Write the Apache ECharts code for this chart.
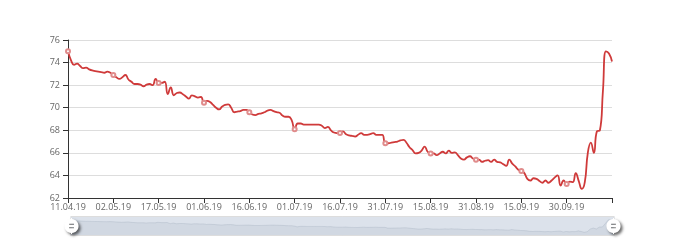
<!DOCTYPE html>
<html>
<head>
<meta charset="utf-8">
<script src="https://cdn.jsdelivr.net/npm/echarts@6/dist/echarts.min.js"></script>
<style>html,body{margin:0;padding:0;background:#fff}#c{width:680px;height:240px}</style>
</head>
<body>
<div id="c"></div>
<script>
var dates = [
'11.04.19','12.04.19','15.04.19','16.04.19','17.04.19','18.04.19','19.04.19','22.04.19','23.04.19','24.04.19','25.04.19','26.04.19','29.04.19','30.04.19','01.05.19',
'02.05.19','03.05.19','04.05.19','05.05.19','06.05.19','07.05.19','08.05.19','09.05.19','10.05.19','11.05.19','12.05.19','13.05.19','14.05.19','15.05.19','16.05.19',
'17.05.19','18.05.19','19.05.19','20.05.19','21.05.19','22.05.19','23.05.19','24.05.19','25.05.19','26.05.19','27.05.19','28.05.19','29.05.19','30.05.19','31.05.19',
'01.06.19','02.06.19','03.06.19','04.06.19','05.06.19','06.06.19','07.06.19','08.06.19','09.06.19','10.06.19','11.06.19','12.06.19','13.06.19','14.06.19','15.06.19',
'16.06.19','17.06.19','18.06.19','19.06.19','20.06.19','21.06.19','22.06.19','23.06.19','24.06.19','25.06.19','26.06.19','27.06.19','28.06.19','29.06.19','30.06.19',
'01.07.19','02.07.19','03.07.19','04.07.19','05.07.19','06.07.19','07.07.19','08.07.19','09.07.19','10.07.19','11.07.19','12.07.19','13.07.19','14.07.19','15.07.19',
'16.07.19','17.07.19','18.07.19','19.07.19','20.07.19','21.07.19','22.07.19','23.07.19','24.07.19','25.07.19','26.07.19','27.07.19','28.07.19','29.07.19','30.07.19',
'31.07.19','01.08.19','02.08.19','03.08.19','04.08.19','05.08.19','06.08.19','07.08.19','08.08.19','09.08.19','10.08.19','11.08.19','12.08.19','13.08.19','14.08.19',
'15.08.19','16.08.19','17.08.19','18.08.19','19.08.19','20.08.19','21.08.19','22.08.19','23.08.19','24.08.19','26.08.19','27.08.19','28.08.19','29.08.19','30.08.19',
'31.08.19','01.09.19','02.09.19','03.09.19','04.09.19','05.09.19','06.09.19','07.09.19','08.09.19','09.09.19','10.09.19','11.09.19','12.09.19','13.09.19','14.09.19',
'15.09.19','16.09.19','17.09.19','18.09.19','19.09.19','20.09.19','21.09.19','22.09.19','23.09.19','24.09.19','25.09.19','26.09.19','27.09.19','28.09.19','29.09.19',
'30.09.19','01.10.19','02.10.19','03.10.19','04.10.19','05.10.19','06.10.19','07.10.19','08.10.19','09.10.19','10.10.19','11.10.19','12.10.19','13.10.19','14.10.19',
'15.10.19'
];
var values = [
75.0, 74.2, 73.8, 73.9, 73.7, 73.5, 73.55, 73.4, 73.3, 73.25,
73.2, 73.15, 73.1, 73.2, 73.1, 72.9, 72.7, 72.55, 72.7, 72.9,
72.5, 72.3, 72.1, 72.1, 72.05, 71.9, 72.05, 72.1, 72.0, 72.55,
72.2, 72.2, 72.3, 71.2, 71.8, 71.1, 71.3, 71.35, 71.2, 71.0,
70.8, 71.1, 71.0, 70.9, 70.95, 70.45, 70.6, 70.5, 70.25, 70.0,
69.85, 70.1, 70.25, 70.3, 70.0, 69.6, 69.65, 69.7, 69.8, 69.8,
69.6, 69.4, 69.35, 69.45, 69.5, 69.6, 69.75, 69.8, 69.7, 69.6,
69.55, 69.3, 69.2, 69.2, 68.9, 68.1, 68.6, 68.6, 68.5, 68.5,
68.5, 68.5, 68.5, 68.5, 68.4, 68.2, 68.3, 68.0, 67.8, 67.75,
67.75, 67.9, 67.65, 67.55, 67.5, 67.45, 67.6, 67.75, 67.6, 67.6,
67.65, 67.75, 67.6, 67.6, 67.6, 66.85, 66.85, 66.9, 66.95, 67.0,
67.1, 67.15, 66.9, 66.5, 66.25, 65.95, 66.0, 66.2, 66.55, 66.1,
65.95, 65.95, 65.8, 65.95, 66.1, 65.95, 66.2, 66.0, 66.05, 65.8,
65.5, 65.4, 65.6, 65.7, 65.5, 65.4, 65.4, 65.2, 65.3, 65.35,
65.2, 65.4, 65.2, 65.15, 65.0, 64.85, 65.4, 65.05, 64.8, 64.5,
64.4, 64.2, 63.7, 63.55, 63.75, 63.7, 63.5, 63.35, 63.55, 63.35,
63.55, 63.8, 64.0, 63.1, 63.55, 63.25, 63.45, 63.4, 64.2, 63.5,
62.8, 63.4, 66.0, 66.9, 66.0, 67.9, 68.0, 71.5, 75.0, 74.8, 74.1
];
var yTicks = {min: 62, max: 76, interval: 2};
var labelStep = 15;

var chart = echarts.init(document.getElementById('c'), null, {renderer: 'canvas'});
var txt = {color: '#666', fontFamily: 'Open Sans', fontSize: 9};
function showAt(i) { return i % labelStep === 0 && i < dates.length - 1; }
function tickAt(i) { return i % labelStep === 0 || i === dates.length - 1; }
chart.setOption({
  animation: false,
  grid: {left: 68, right: 68, top: 40, bottom: 42},
  xAxis: {
    type: 'category',
    boundaryGap: false,
    data: dates,
    axisLine: {show: true, lineStyle: {color: '#333'}},
    axisTick: {show: true, interval: tickAt, lineStyle: {color: '#333'}},
    axisLabel: Object.assign({interval: showAt, margin: 5}, txt)
  },
  yAxis: {
    type: 'value',
    min: yTicks.min, max: yTicks.max, interval: yTicks.interval,
    axisLine: {show: true, lineStyle: {color: '#333'}},
    axisTick: {show: true, lineStyle: {color: '#333'}},
    axisLabel: txt,
    splitLine: {lineStyle: {color: '#ddd'}}
  },
  dataZoom: [{
    type: 'slider',
    start: 0, end: 100,
    left: 68, right: 68, bottom: 4, height: 20,
    showDetail: false,
    brushSelect: false,
    moveHandleSize: 0,
    borderColor: '#ddd',
    backgroundColor: 'rgba(47,69,84,0)',
    fillerColor: 'rgba(167,183,204,0.4)',
    dataBackground: {
      lineStyle: {color: '#2f4554', width: 0.5, opacity: 0.3},
      areaStyle: {color: 'rgba(47,69,84,0.3)', opacity: 0.3}
    },
    selectedDataBackground: {
      lineStyle: {color: '#2f4554', width: 0.5, opacity: 0.3},
      areaStyle: {color: 'rgba(47,69,84,0.3)', opacity: 0.3}
    },
    handleIcon: 'M10.7,11.9v-1.3H9.3v1.3c-4.9,0.3-8.8,4.4-8.8,9.4c0,5,3.9,9.1,8.8,9.4v1.3h1.3v-1.3c4.9-0.3,8.8-4.4,8.8-9.4C19.5,16.3,15.6,12.2,10.7,11.9z M13.3,24.4H6.7V23h6.6V24.4z M13.3,19.6H6.7v-1.4h6.6V19.6z',
    handleSize: '80%',
    handleStyle: {color: '#fff', borderColor: '#aaa', borderWidth: 0, shadowBlur: 3, shadowColor: 'rgba(0,0,0,0.6)', shadowOffsetX: 2, shadowOffsetY: 2}
  }],
  series: [{
    type: 'line',
    data: values,
    smooth: true,
    symbol: 'emptyCircle',
    symbolSize: 4,
    itemStyle: {color: '#e08c8c', borderWidth: 1},
    lineStyle: {color: '#cf3a3a', width: 1.8}
  }]
});
</script>
</body>
</html>
